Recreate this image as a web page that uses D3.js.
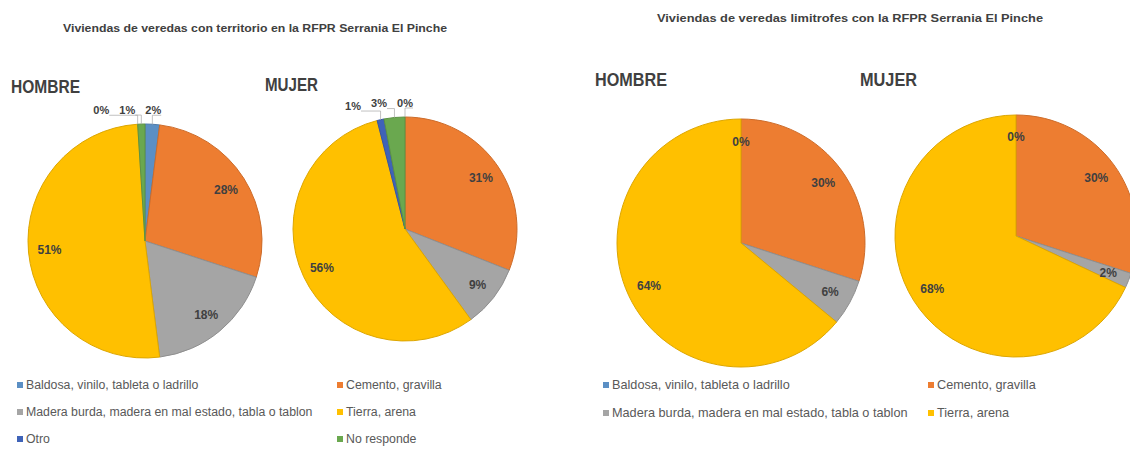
<!DOCTYPE html>
<html>
<head>
<meta charset="utf-8">
<script src="https://cdn.jsdelivr.net/npm/d3@7"></script>
<style>
  body { margin: 0; background: #fff; }
  svg { display: block; font-family: "Liberation Sans", Arial, sans-serif; }
</style>
</head>
<body>
<svg id="chart" width="1130" height="452"></svg>
<script>
// categorias y colores (orden del Excel)
const categories = [
  "Baldosa, vinilo, tableta o ladrillo",
  "Cemento, gravilla",
  "Madera burda, madera en mal estado, tabla o tablon",
  "Tierra, arena",
  "Otro",
  "No responde"
];
const colors = ["#5b8fc4", "#ed7d31", "#a5a5a5", "#ffc000", "#3f63b8", "#6aa84f"];

// porcentajes por grupo
const territorioHombre = [2, 28, 18, 51, 0, 1];
const territorioMujer = [0, 31, 9, 56, 1, 3];
const limitrofesHombre = [0, 30, 6, 64];
const limitrofesMujer = [0, 30, 2, 68];

const titles = [
  "Viviendas de veredas con territorio en la RFPR Serrania El Pinche",
  "Viviendas de veredas limitrofes con la RFPR Serrania El Pinche"
];
const groupLabels = ["HOMBRE", "MUJER"];

const svg = d3.select("#chart");

// titulos
svg.append("text")
  .attr("x", 255).attr("y", 32)
  .attr("text-anchor", "middle")
  .attr("font-size", 10.5).attr("font-weight", "bold").attr("fill", "#404040")
  .attr("textLength", 384).attr("lengthAdjust", "spacingAndGlyphs")
  .text(titles[0]);
svg.append("text")
  .attr("x", 850).attr("y", 22)
  .attr("text-anchor", "middle")
  .attr("font-size", 10.5).attr("font-weight", "bold").attr("fill", "#404040")
  .attr("textLength", 386).attr("lengthAdjust", "spacingAndGlyphs")
  .text(titles[1]);

// etiquetas HOMBRE / MUJER
const heads = [
  { text: groupLabels[0], x: 11, y: 93, w: 69 },
  { text: groupLabels[1], x: 265, y: 91, w: 53 },
  { text: groupLabels[0], x: 595, y: 86, w: 72 },
  { text: groupLabels[1], x: 860, y: 86, w: 57 }
];
heads.forEach(h => {
  svg.append("text")
    .attr("x", h.x).attr("y", h.y)
    .attr("font-size", 18).attr("font-weight", "bold").attr("fill", "#404040")
    .attr("textLength", h.w).attr("lengthAdjust", "spacingAndGlyphs")
    .text(h.text);
});

const pie = d3.pie().sort(null).value(d => d);

function drawPie(values, cx, cy, r, smallOutside) {
  const g = svg.append("g").attr("transform", `translate(${cx},${cy})`);
  const arcs = pie(values);
  const arc = d3.arc().innerRadius(0).outerRadius(r);

  g.selectAll("path")
    .data(arcs.filter(d => d.value > 0))
    .enter()
    .append("path")
    .attr("d", arc)
    .attr("fill", d => colors[d.index])
    .attr("stroke", d => d3.color(colors[d.index]).darker(0.4))
    .attr("stroke-width", 1);

  const mid = d => (d.startAngle + d.endAngle) / 2;

  // etiquetas dentro
  const inside = arcs.filter(d => !(smallOutside && d.value < 4));
  const labelArc = d3.arc().innerRadius(r * 0.82).outerRadius(r * 0.82);
  g.selectAll("text.in")
    .data(inside)
    .enter()
    .append("text")
    .attr("class", "in")
    .attr("transform", d => `translate(${labelArc.centroid(d)})`)
    .attr("text-anchor", "middle")
    .attr("dy", "0.35em")
    .attr("font-size", 12).attr("font-weight", "bold").attr("fill", "#404040")
    .text(d => d.value + "%");

  if (!smallOutside) return;

  // etiquetas pequeñas arriba, separadas
  const out = arcs.filter(d => d.value < 4).map(d => {
    const a = mid(d);
    return { d, a, x: Math.sin(a) * (r + 14), y: -Math.cos(a) * (r + 14) };
  });
  out.sort((p, q) => p.x - q.x);
  for (let i = out.length - 2; i >= 0; i--) {
    if (out[i].x > out[i + 1].x - 26) out[i].x = out[i + 1].x - 26;
  }
  out.forEach(o => {
    const ax = Math.sin(o.a) * r, ay = -Math.cos(o.a) * r;
    g.append("polyline")
      .attr("points", `${o.x + 8},${o.y + 5} ${ax},${o.y + 5} ${ax},${ay}`)
      .attr("fill", "none").attr("stroke", "#a6a6a6").attr("stroke-width", 0.7);
    g.append("text")
      .attr("x", o.x).attr("y", o.y)
      .attr("text-anchor", "middle")
      .attr("dy", "0.35em")
      .attr("font-size", 11).attr("font-weight", "bold").attr("fill", "#404040")
      .text(o.d.value + "%");
  });
}

drawPie(territorioHombre, 145, 241, 117, true);
drawPie(territorioMujer, 405, 229, 112, true);
drawPie(limitrofesHombre, 741, 243, 124, false);
drawPie(limitrofesMujer, 1016, 236, 121, false);

// leyendas
function drawLegend(n, x1, x2, y0, step, fs) {
  for (let i = 0; i < n; i++) {
    const x = i % 2 === 0 ? x1 : x2;
    const y = y0 + Math.floor(i / 2) * step;
    svg.append("rect")
      .attr("x", x).attr("y", y - 3).attr("width", 6).attr("height", 6)
      .attr("fill", colors[i]);
    svg.append("text")
      .attr("x", x + 9).attr("y", y)
      .attr("dy", "0.35em")
      .attr("font-size", fs).attr("fill", "#595959")
      .text(categories[i]);
  }
}
drawLegend(6, 17, 337, 385, 27, 12.3);
drawLegend(4, 603, 928, 385, 28, 12.7);
</script>
</body>
</html>
